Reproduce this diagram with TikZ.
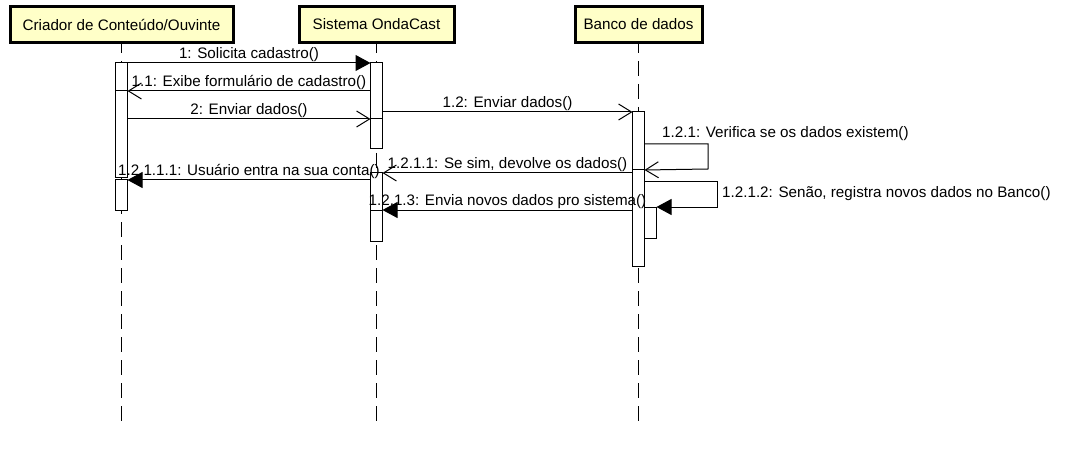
\documentclass[tikz,border=0pt]{standalone}
\usepackage{fontspec}
\setmainfont{Liberation Sans}
\usepackage{xcolor}
\usepackage{tikz}
\usetikzlibrary{arrows.meta, positioning, calc}
\definecolor{headfill}{RGB}{255,255,200}
\tikzset{%
	head/.style={draw, line width=3pt, fill=headfill, minimum height=36pt,%
		inner sep=0pt, outer sep=0pt},
	act/.style={draw, fill=white, line width=1pt, minimum width=12pt,%
		inner sep=0pt, outer sep=0pt},
	life/.style={line width=1pt, dash pattern=on 15pt off 8pt, dash phase=6pt},
	sync/.style={line width=1pt, -{Triangle[length=15pt, width=16pt]}},
	ret/.style={line width=1pt, -{Straight Barb[length=13pt, width=16pt]}},
	lbl/.style={midway, above, inner sep=1pt}
}

\begin{document}
\begin{tikzpicture}[x=1pt, y=-1pt, font=\fontsize{15.2}{17}\selectfont]
	\useasboundingbox (0,0) rectangle (1066,468);

	% lifelines
	\node[head, minimum width=223pt] (head1) at (121.5,24.5) {Criador de Conteúdo/Ouvinte};
	\node[head, minimum width=155pt] (head2) at (376.5,24.5) {Sistema OndaCast};
	\node[head, minimum width=127pt] (head3) at (638.5,24.5) {Banco de dados};
	\coordinate (end1) at (121.5,422);
	\coordinate (end2) at (376.5,422);
	\coordinate (end3) at (638.5,422);
	\draw[life] ([yshift=-1.5pt]head1.south) -- (end1);
	\draw[life] ([yshift=-1.5pt]head2.south) -- (end2);
	\draw[life] ([yshift=-1.5pt]head3.south) -- (end3);

	% activations
	\node[act, minimum height=28pt] (act1a) at (121.5,77) {};
	\node[act, minimum height=87pt] (act1b) at (121.5,134.5) {};
	\node[act, minimum height=30pt] (act1c) at (121.5,195) {};
	\node[act, minimum height=56pt] (act2a) at (376.5,91) {};
	\node[act, minimum height=30pt] (act2b) at (376.5,134) {};
	\node[act, minimum height=37pt] (act2c) at (376.5,191.5) {};
	\node[act, minimum height=31pt] (act2d) at (376.5,225.5) {};
	\node[act, minimum height=58pt] (act3a) at (638.5,141) {};
	\node[act, minimum height=96pt] (act3b) at (638.5,218) {};
	\node[act, minimum height=31pt] (act3n) at (650.5,222.5) {};

	% messages
	\draw[sync] (act1a.north east) -- (act2a.north west)
		node[lbl] {1: Solicita cadastro()};
	\draw[ret] (act2a.west |- act1b.north) -- (act1b.north east)
		node[lbl] {1.1: Exibe formulário de cadastro()};
	\draw[ret] (act1b.east |- act2b.north) -- (act2b.north west)
		node[lbl] {2: Enviar dados()};
	\draw[ret] (act2a.east |- act3a.north) -- (act3a.north west)
		node[lbl] {1.2: Enviar dados()};

	\coordinate (self1a) at (708,144);
	\coordinate (self1b) at (708,169);
	\draw[ret] (act3a.east |- self1a) -- (self1a) -- (self1b) -- (act3b.north east);
	\node[anchor=base west, inner sep=0pt] (txt121) at (662,138) {1.2.1: Verifica se os dados existem()};

	\draw[ret] (act3b.west |- act2c.north) -- (act2c.north east)
		node[lbl] {1.2.1.1: Se sim, devolve os dados()};
	\draw[sync] (act2c.west |- act1c.north) -- (act1c.north east)
		node[lbl] {1.2.1.1.1: Usuário entra na sua conta()};

	\coordinate (self2a) at (717,182);
	\coordinate (self2b) at (717,207);
	\draw[sync] (act3b.east |- self2a) -- (self2a) -- (self2b) -- (act3n.north east);
	\node[anchor=base west, inner sep=0pt] (txt1212) at (722,197) {1.2.1.2: Senão, registra novos dados no Banco()};

	\draw[sync] (act3b.west |- act2d.north) -- (act2d.north east)
		node[lbl] {1.2.1.3: Envia novos dados pro sistema()};
\end{tikzpicture}
\end{document}
